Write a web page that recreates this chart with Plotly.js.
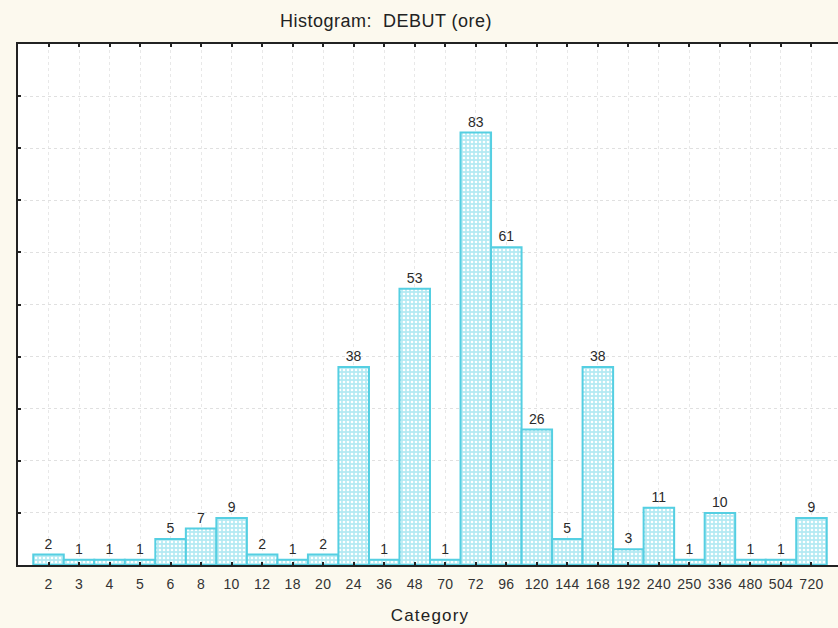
<!DOCTYPE html>
<html>
<head>
<meta charset="utf-8">
<script src="https://cdn.plot.ly/plotly-3.0.1.min.js"></script>
<style>
html,body{margin:0;padding:0;overflow:hidden;background:#fcf9ee;}
#chart{width:842px;height:628px;}
#chart .gtitle{letter-spacing:0.5px;}
#chart .xtitle{letter-spacing:1.2px;}
#chart .xtick text{letter-spacing:0.3px;}
#chart .textpoint text{letter-spacing:1px;}
</style>
</head>
<body>
<div id="chart"></div>
<script>
const categories = ["2","3","4","5","6","8","10","12","18","20","24","36","48","70","72","96","120","144","168","192","240","250","336","480","504","720"];
const counts = [2,1,1,1,5,7,9,2,1,2,38,1,53,1,83,61,26,5,38,3,11,1,10,1,1,9];
const yTicks = [0,10,20,30,40,50,60,70,80,90,100];

const idx = categories.map((c,i)=>i);
const FONT = 'Liberation Sans, Arial, sans-serif';

const trace = {
  type: 'bar',
  x: idx,
  y: counts,
  width: 1,
  text: counts.map(String),
  textposition: 'outside',
  cliponaxis: false,
  textfont: {family: FONT, size: 14, color: '#2a2a2a'},
  marker: {
    color: '#b4eaf3',
    line: {color: '#55cfe2', width: 2},
    pattern: {shape: '.', bgcolor: '#b4eaf3', fgcolor: '#ffffff', size: 4, solidity: 0.35, fillmode: 'replace'}
  },
  hoverinfo: 'x+y'
};

const layout = {
  width: 842,
  height: 628,
  paper_bgcolor: '#fcf9ee',
  plot_bgcolor: '#ffffff',
  margin: {l: 18, r: 0, t: 44, b: 63},
  showlegend: false,
  bargap: 0,
  title: {
    text: 'Histogram:  DEBUT (ore)',
    x: 386/842, xref: 'container', xanchor: 'center',
    y: 1 - 21/628, yref: 'container', yanchor: 'middle',
    font: {family: FONT, size: 18, color: '#222'}
  },
  xaxis: {
    range: [-1, 26],
    tickmode: 'array',
    tickvals: idx,
    ticktext: categories,
    ticks: 'inside',
    ticklen: 3,
    tickwidth: 2,
    tickcolor: '#222',
    mirror: 'ticks',
    showline: true,
    linecolor: '#222',
    linewidth: 2,
    showgrid: true,
    gridcolor: '#e8e8e8',
    griddash: 'dot',
    gridwidth: 1,
    zeroline: false,
    ticklabelstandoff: 5,
    tickfont: {family: FONT, size: 14, color: '#333'},
    title: {text: 'Category', standoff: 18, font: {family: FONT, size: 17, color: '#222'}},
    fixedrange: true
  },
  yaxis: {
    range: [0, 100],
    tickmode: 'array',
    tickvals: yTicks,
    showticklabels: false,
    ticks: 'inside',
    ticklen: 3,
    tickwidth: 2,
    tickcolor: '#222',
    mirror: 'ticks',
    showline: true,
    linecolor: '#222',
    linewidth: 2,
    showgrid: true,
    gridcolor: '#e0e0e0',
    griddash: 'dot',
    gridwidth: 1,
    zeroline: false,
    fixedrange: true
  }
};

Plotly.newPlot('chart', [trace], layout, {displayModeBar: false, staticPlot: true});
</script>
</body>
</html>
